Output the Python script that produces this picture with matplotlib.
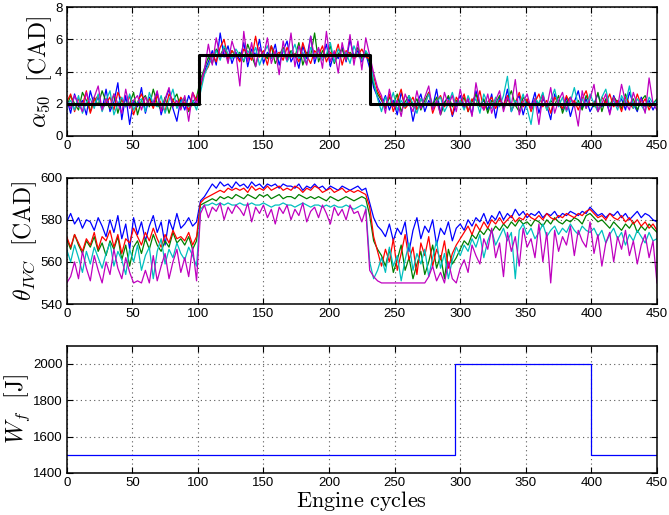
import numpy as np
import matplotlib
matplotlib.use("Agg")
import matplotlib.pyplot as plt

plt.rcParams['font.family'] = ['Liberation Sans', 'DejaVu Sans']
plt.rcParams['mathtext.fontset'] = 'cm'

# sampled every 3 engine cycles (0, 3, ..., 450)
CYCLE_STEP = 3

# alpha_50 [CAD], one series per cylinder
alpha_blue = [
    2.3, 1.4, 2.6, 1.8, 2.2, 1.3, 2.8, 1.9, 2.4, 1.6,
    2.9, 1.5, 2.1, 3.3, 1.0, 2.5, 0.7, 2.2, 1.8, 3.0,
    1.4, 2.4, 1.9, 2.7, 1.3, 2.2, 2.9, 1.7, 0.9, 2.3,
    1.6, 2.5, 1.9, 2.2,
    3.1, 4.0, 4.6, 5.3, 4.4, 6.4, 4.9, 5.6, 4.5, 5.2,
    4.7, 5.8, 4.3, 5.4, 5.0, 6.0, 4.5, 5.2, 4.9, 5.7,
    4.4, 5.3, 5.9, 4.6, 5.1, 4.2, 5.6, 4.8, 6.2, 4.5,
    5.4, 4.9, 5.7, 4.3, 5.2, 4.8, 5.5, 4.6, 6.0, 4.9,
    5.3, 4.6, 5.1,
    4.2, 3.0, 2.4,
    1.9, 2.5, 1.6, 2.2, 1.3, 2.7, 1.8, 2.3, 0.9, 2.0,
    2.6, 1.5, 2.2, 1.8, 2.9, 1.4, 2.1, 2.4, 1.2, 2.0,
    2.5, 1.7, 2.3, 1.3, 2.8, 1.9, 2.2, 1.6, 2.6, 1.1,
    2.4, 1.8, 2.9, 1.5, 2.1, 2.5, 1.3, 2.2, 1.8, 2.7,
    1.4, 2.3, 1.9, 1.0, 2.6, 2.0, 1.6, 2.4, 1.2, 2.1,
    2.8, 1.7, 2.3, 1.5, 2.0, 2.6, 1.8, 2.2, 1.4, 2.5,
    1.9, 2.3, 1.6, 2.7, 2.0, 1.5, 2.4, 1.8, 2.2, 1.6, 2.1,
]
alpha_green = [
    1.8, 2.5, 2.0, 1.6, 2.7, 2.2, 1.5, 2.4, 1.9, 2.8,
    2.1, 1.7, 2.6, 1.4, 2.3, 1.9, 2.0, 2.7, 1.3, 2.2,
    2.5, 1.8, 2.9, 2.0, 1.6, 2.4, 1.4, 2.2, 2.6, 1.7,
    2.3, 1.5, 2.1, 2.4,
    3.5, 4.2, 4.9, 4.5, 5.4, 5.0, 5.5, 4.7, 5.3, 4.9,
    5.2, 4.6, 5.7, 5.0, 4.3, 5.4, 5.1, 4.8, 5.6, 4.5,
    5.0, 5.5, 4.7, 5.3, 4.9, 5.8, 4.4, 5.2, 5.0, 6.4,
    4.6, 5.3, 4.9, 5.6, 4.5, 5.1, 5.4, 4.7, 5.2, 4.9,
    5.5, 4.8, 5.2,
    4.5, 3.2, 2.6,
    2.2, 1.7, 2.4, 1.9, 2.6, 1.5, 2.1, 2.5, 1.8, 2.3,
    1.6, 2.2, 2.7, 1.9, 2.4, 1.3, 2.0, 2.5, 1.8, 2.2,
    1.9, 2.4, 1.5, 2.1, 2.6, 1.8, 2.3, 1.4, 2.2, 2.0,
    2.5, 1.7, 2.2, 2.8, 1.9, 1.5, 2.4, 2.1, 1.7, 2.3,
    2.0, 2.6, 1.6, 2.2, 1.9, 2.5, 1.4, 2.1, 2.4, 1.8,
    2.2, 1.6, 2.5, 2.0, 1.8, 2.7, 1.5, 2.3, 1.9, 2.4,
    2.1, 1.7, 2.6, 1.9, 2.3, 1.6, 2.2, 2.5, 1.8, 2.0, 2.3,
]
alpha_red = [
    2.1, 2.6, 1.5, 2.3, 1.9, 2.8, 1.4, 2.2, 2.5, 1.7,
    2.0, 2.4, 1.6, 2.7, 2.2, 1.8, 2.5, 1.3, 2.1, 2.6,
    1.9, 2.3, 1.7, 2.5, 2.0, 1.5, 2.6, 2.2, 1.8, 2.4,
    2.0, 1.6, 2.7, 2.2,
    3.0, 3.9, 4.3, 5.1, 4.6, 5.5, 6.0, 4.8, 5.3, 5.0,
    4.6, 5.4, 5.1, 4.7, 6.2, 4.9, 5.3, 4.4, 5.6, 5.0,
    5.2, 4.7, 5.5, 4.9, 5.1, 4.6, 5.8, 5.0, 4.5, 5.3,
    5.0, 5.6, 4.6, 5.2, 4.9, 5.7, 4.4, 5.3, 5.1, 4.8,
    5.0, 5.4, 4.9,
    4.8, 3.7, 2.8,
    2.3, 1.8, 2.6, 1.5, 2.2, 2.9, 1.7, 2.0, 2.4, 1.6,
    2.3, 1.9, 2.7, 1.4, 2.1, 2.5, 1.8, 2.2, 1.3, 2.4,
    2.0, 2.6, 1.5, 2.3, 1.9, 2.8, 1.6, 2.1, 2.4, 1.7,
    2.2, 1.9, 2.5, 1.6, 2.0, 2.7, 1.8, 2.3, 1.5, 2.1,
    2.6, 1.8, 2.2, 1.4, 2.4, 2.0, 1.7, 2.5, 1.9, 2.2,
    1.6, 2.3, 2.8, 1.9, 2.1, 1.5, 2.4, 2.0, 2.6, 1.8,
    2.2, 1.5, 2.4, 2.0, 1.7, 2.6, 1.9, 2.3, 1.6, 2.1, 1.9,
]
alpha_cyan = [
    1.9, 2.2, 1.6, 2.5, 1.4, 2.1, 2.3, 1.7, 2.6, 1.5,
    2.2, 2.8, 1.3, 2.0, 2.4, 1.8, 2.6, 1.6, 2.1, 2.3,
    1.5, 2.7, 2.0, 1.8, 2.5, 1.4, 2.2, 2.9, 1.7, 2.1,
    2.4, 1.8, 2.2, 1.6,
    2.7, 3.8, 4.4, 4.9, 5.3, 4.7, 5.6, 5.1, 4.8, 5.4,
    5.0, 4.7, 5.3, 4.9, 5.5, 4.4, 5.1, 5.6, 4.8, 5.2,
    4.9, 5.4, 4.6, 5.1, 5.7, 4.8, 5.2, 4.5, 5.5, 5.0,
    5.3, 4.7, 5.1, 5.8, 4.6, 5.4, 4.9, 5.2, 4.5, 5.6,
    5.0, 4.7, 5.3,
    4.9, 3.4, 2.3,
    1.5, 2.4, 1.9, 2.7, 1.6, 2.2, 1.8, 2.5, 2.0, 1.4,
    2.3, 1.9, 2.6, 1.7, 2.1, 2.4, 1.5, 2.0, 2.7, 1.8,
    2.2, 1.6, 2.5, 1.9, 2.3, 1.4, 2.6, 2.0, 1.7, 2.4,
    1.8, 2.5, 3.7, 1.5, 2.2, 1.9, 2.6, 1.7, 0.7, 2.3,
    2.0, 2.7, 1.6, 2.2, 2.9, 1.8, 2.4, 1.5, 2.1, 3.0,
    1.9, 2.3, 1.7, 2.6, 2.0, 1.5, 2.4, 2.9, 1.8, 2.2,
    1.6, 2.5, 2.0, 3.1, 1.7, 2.3, 1.9, 1.5, 2.4, 2.0, 2.2,
]
alpha_magenta = [
    2.2, 1.7, 2.5, 2.0, 1.5, 2.7, 1.9, 2.4, 3.1, 1.6,
    2.3, 1.8, 2.6, 2.0, 1.4, 2.9, 1.7, 2.2, 2.5, 1.6,
    2.4, 1.9, 2.1, 2.8, 1.5, 2.3, 3.0, 1.8, 2.2, 1.6,
    2.5, 0.9, 2.7, 1.9,
    3.3, 4.1, 5.7, 4.4, 6.1, 4.9, 5.4, 4.5, 5.9, 5.1,
    3.1, 6.5, 4.6, 5.8, 4.3, 5.5, 4.9, 6.1, 4.5, 5.3,
    3.8, 5.9, 4.7, 6.4, 4.3, 5.6, 5.0, 4.4, 6.2, 4.8,
    5.5, 4.2, 6.5, 4.6, 5.3, 3.9, 5.8, 4.7, 6.3, 4.4,
    5.9, 4.1, 6.1,
    5.0, 3.9, 3.0,
    2.5, 1.4, 2.9, 1.8, 2.2, 1.2, 2.6, 2.0, 1.5, 2.8,
    1.7, 2.4, 3.1, 1.6, 2.2, 1.3, 2.7, 1.9, 2.5, 1.5,
    2.9, 1.8, 2.3, 1.2, 3.3, 2.0, 1.6, 2.6, 1.4, 2.2,
    2.8, 1.5, 2.4, 1.9, 3.5, 1.3, 2.1, 2.6, 1.7, 2.3,
    0.7, 2.5, 1.8, 3.0, 1.4, 2.2, 2.7, 1.6, 2.4, 1.9,
    0.6, 2.8, 1.7, 2.3, 3.2, 1.5, 2.0, 2.6, 1.3, 2.4,
    1.8, 3.2, 2.1, 1.6, 2.7, 1.9, 2.3, 1.4, 3.6, 2.0, 1.6,
]

# alpha_50 reference (steps)
ref_cycles = [0, 101, 231, 450]
ref_values = [2, 5, 2, 2]

# theta_IVC [CAD]
theta_blue = [
    579, 583, 578, 581, 576, 580, 579, 575, 581, 577,
    572, 580, 574, 582, 571, 578, 566, 581, 573, 579,
    570, 577, 582, 574, 579, 568, 580, 575, 583, 576,
    578, 581, 577, 579,
    589, 591, 594, 597, 595, 598, 596, 597, 595, 598,
    596, 597, 595, 598, 596, 597, 595, 597, 596, 597,
    595, 597, 596, 596, 595, 597, 594, 596, 595, 597,
    595, 596, 594, 596, 595, 594, 596, 595, 594, 595,
    596, 594, 595,
    588, 581, 577,
    575, 572, 578, 570, 576, 573, 579, 565, 575, 581,
    571, 577, 574, 580, 568, 576, 573, 579, 570, 576,
    578, 575, 580, 577, 581, 579, 583, 578, 582, 580,
    584, 580, 583, 581, 585, 582, 584, 581, 583, 582,
    584, 581, 583, 582, 584, 581, 583, 582, 584, 583,
    582, 584, 583, 586, 584, 582, 583, 581, 583, 582,
    584, 581, 583, 580, 582, 584, 581, 583, 582, 580, 579,
]
theta_green = [
    571, 566, 573, 568, 564, 570, 567, 572, 565, 569,
    563, 570, 566, 572, 561, 568, 558, 567, 570, 564,
    571, 566, 573, 568, 565, 570, 567, 574, 569, 571,
    568, 572, 566, 570,
    587, 588, 589, 590, 589, 591, 590, 591, 590, 592,
    591, 590, 592, 591, 590, 592, 591, 592, 590, 591,
    592, 590, 591, 591, 590, 592, 591, 590, 591, 590,
    591, 590, 589, 591, 590, 589, 590, 591, 590, 589,
    590, 591, 590,
    582, 570, 566,
    563, 558, 566, 555, 561, 568, 556, 562, 552, 559,
    565, 554, 560, 568, 557, 563, 552, 566, 559, 562,
    566, 570, 568, 573, 571, 575, 573, 576, 574, 577,
    575, 578, 576, 579, 577, 580, 578, 579, 577, 580,
    579, 577, 580, 578, 581, 579, 578, 580, 579, 581,
    580, 578, 582, 583, 581, 579, 580, 578, 576, 579,
    577, 575, 578, 576, 579, 574, 577, 575, 578, 576, 574,
]
theta_red = [
    572, 567, 573, 569, 565, 571, 568, 574, 566, 572,
    570, 575, 567, 573, 564, 571, 569, 576, 572, 568,
    574, 570, 576, 571, 567, 573, 569, 575, 571, 572,
    570, 574, 568, 572,
    588, 590, 591, 592, 593, 594, 593, 595, 594, 595,
    594, 595, 593, 596, 594, 595, 594, 596, 594, 595,
    596, 594, 595, 594, 596, 595, 593, 595, 594, 596,
    595, 593, 594, 595, 593, 594, 595, 593, 594, 593,
    594, 593, 592,
    586, 572, 565,
    558, 566, 560, 571, 556, 564, 573, 561, 567, 554,
    569, 563, 572, 558, 566, 561, 570, 557, 564, 568,
    571, 574, 577, 573, 578, 575, 579, 576, 580, 578,
    581, 578, 580, 582, 579, 581, 580, 583, 581, 580,
    582, 580, 583, 581, 580, 582, 581, 583, 582, 581,
    583, 582, 584, 585, 583, 581, 582, 580, 583, 581,
    580, 582, 579, 581, 578, 580, 577, 579, 576, 578, 575,
]
theta_cyan = [
    566, 560, 568, 562, 555, 565, 559, 567, 562, 557,
    564, 569, 558, 565, 561, 554, 566, 560, 568, 556,
    563, 567, 552, 565, 571, 559, 566, 562, 569, 564,
    561, 567, 563, 558,
    585, 587, 587, 588, 587, 588, 587, 588, 587, 587,
    588, 587, 587, 588, 587, 587, 588, 587, 586, 587,
    587, 588, 587, 587, 586, 587, 588, 587, 586, 587,
    587, 586, 587, 586, 587, 586, 586, 587, 586, 585,
    586, 587, 586,
    560, 552, 556,
    562, 555, 567, 558, 563, 551, 561, 569, 556, 564,
    559, 566, 553, 562, 570, 557, 564, 552, 561, 567,
    563, 568, 565, 571, 567, 573, 562, 570, 575, 568,
    572, 576, 570, 574, 552, 575, 578, 573, 576, 571,
    574, 578, 572, 575, 577, 573, 576, 574, 578, 575,
    573, 577, 575, 574, 576, 572, 575, 569, 573, 576,
    571, 574, 568, 573, 570, 575, 572, 569, 574, 570, 571,
]
theta_magenta = [
    550, 553, 560, 552, 565, 557, 551, 563, 556, 550,
    560, 554, 566, 557, 552, 562, 555, 550, 551, 550,
    556, 550, 563, 551, 558, 564, 552, 560, 566, 555,
    562, 553, 567, 551,
    583, 587, 581, 586, 584, 588, 580, 586, 583, 587,
    585, 582, 588, 579, 586, 583, 587, 581, 585, 578,
    586, 583, 587, 580, 585, 582, 588, 579, 584, 586,
    581, 587, 583, 578, 586, 582, 585, 580, 587, 583,
    584, 579, 585,
    556, 553, 551,
    550, 550, 550, 550, 550, 550, 550, 550, 550, 550,
    550, 550, 553, 558, 551, 555, 550, 560, 552, 550,
    557, 561, 555, 568, 563, 559, 571, 566, 576, 562,
    569, 553, 574, 565, 572, 558, 576, 567, 571, 562,
    578, 560, 574, 550, 575, 565, 572, 568, 577, 563,
    575, 570, 567, 579, 564, 573, 558, 569, 574, 560,
    572, 566, 575, 563, 570, 559, 568, 573, 562, 570, 550,
]

# fuel energy W_f [J] (steps)
wf_cycles = [0, 296, 400, 450]
wf_values = [1500, 2000, 1500, 1500]

# MATLAB default colour order: b, g, r, c, m
colors = [(0, 0, 1), (0, 0.5, 0), (1, 0, 0), (0, 0.75, 0.75), (0.75, 0, 0.75)]
alpha_series = [alpha_blue, alpha_green, alpha_red, alpha_cyan, alpha_magenta]
theta_series = [theta_blue, theta_green, theta_red, theta_cyan, theta_magenta]


def style_axes(ax, ylim, yticks):
    ax.set_xlim(0, 450)
    ax.set_xticks(np.arange(0, 451, 50))
    ax.set_ylim(*ylim)
    ax.set_yticks(yticks)
    ax.tick_params(direction='in', top=True, right=True, length=4, width=0.8,
                   labelsize=9.5, pad=3, colors='black')
    ax.grid(True, color='0.35', linestyle=(0, (1, 3)), linewidth=0.8)
    for sp in ax.spines.values():
        sp.set_linewidth(1.1)


fig = plt.figure(figsize=(6.69, 5.15), dpi=100)
left, width = 0.0997, 0.8823
ax1 = fig.add_axes([left, 0.7365, width, 0.2493])
ax2 = fig.add_axes([left, 0.4097, width, 0.2453])
ax3 = fig.add_axes([left, 0.0816, width, 0.2471])

for vals, c in zip(alpha_series, colors):
    x = np.arange(len(vals)) * CYCLE_STEP
    ax1.plot(x, vals, color=c, lw=0.9)
ax1.plot(ref_cycles, ref_values, color='black', lw=2.2, drawstyle='steps-post')
style_axes(ax1, (0, 8), [0, 2, 4, 6, 8])
ax1.set_ylabel(r'$\alpha_{50}\ \ [\mathrm{CAD}]$', fontsize=17, labelpad=1)

for vals, c in zip(theta_series, colors):
    x = np.arange(len(vals)) * CYCLE_STEP
    ax2.plot(x, vals, color=c, lw=0.9)
style_axes(ax2, (540, 600), [540, 560, 580, 600])
ax2.set_ylabel(r'$\theta_{IVC}\ \ [\mathrm{CAD}]$', fontsize=17, labelpad=1)

ax3.plot(wf_cycles, wf_values, color='blue', lw=0.9, drawstyle='steps-post')
style_axes(ax3, (1400, 2100), [1400, 1600, 1800, 2000])
ax3.set_ylabel(r'$W_f\ \ [\mathrm{J}]$', fontsize=17, labelpad=1)
ax3.set_xlabel(r'$\mathrm{Engine\ cycles}$', fontsize=16, labelpad=0)

fig.savefig('out.png', dpi=100)
